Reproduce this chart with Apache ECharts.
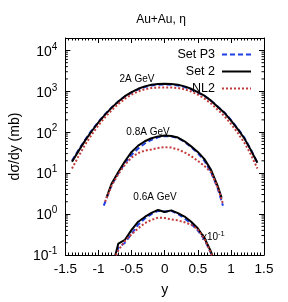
<!DOCTYPE html>
<html><head><meta charset="utf-8">
<script src="https://cdn.jsdelivr.net/npm/echarts@6.0.0/dist/echarts.min.js"></script>
<style>html,body{margin:0;padding:0;background:#fff}#c{width:288px;height:302px}</style>
</head><body><div id="c"></div>
<script>
// ---- data ----
const legendNames = ['Set P3', 'Set 2', 'NL2'];
const xTicks = [-1.5, -1, -0.5, 0, 0.5, 1, 1.5];

// 2A GeV
const x2A = [-1.4,-1.3,-1.2,-1.1,-1.0,-0.9,-0.8,-0.7,-0.6,-0.5,-0.4,-0.3,-0.2,-0.1,0,0.1,0.2,0.3,0.4,0.5,0.6,0.7,0.8,0.9,1.0,1.1,1.2,1.3,1.4];
const set2_2A = [19,35,63,107,174,269,398,562,759,955,1148,1318,1445,1510,1520,1510,1445,1318,1148,955,780,590,420,300,195,120,72,37,18];
const p3_2A   = [20,37,66,112,180,276,405,565,750,930,1110,1270,1390,1450,1460,1450,1390,1270,1110,930,770,590,425,305,200,125,75,38,18];
const nl2_2A  = [13,26,50,88,148,232,345,490,660,830,990,1120,1200,1235,1240,1235,1200,1120,990,830,665,500,355,250,160,98,56,29,13];

// 0.8A GeV
const x08_set2 = [-0.88,-0.8,-0.7,-0.6,-0.5,-0.4,-0.3,-0.2,-0.1,0,0.1,0.2,0.3,0.4,0.5,0.6,0.7,0.8,0.86];
const set2_08 = [2.5,5.6,10.7,19.5,33,47,60,71,79,83,81,74,60,45,33,22,12,4.9,2.5];
const x08_p3 = [-0.92,-0.8,-0.7,-0.6,-0.5,-0.4,-0.3,-0.2,-0.1,0,0.1,0.2,0.3,0.4,0.5,0.6,0.7,0.8,0.88];
const p3_08 = [1.6,5.2,10,17.5,28,40,53,65,75,80,79,72,58,43,31,20,10.5,4.3,1.6];
const x08_nl2 = [-0.9,-0.8,-0.7,-0.6,-0.5,-0.4,-0.3,-0.2,-0.1,0,0.1,0.2,0.3,0.4,0.5,0.6,0.7,0.8,0.88];
const nl2_08 = [2.0,5.0,9.5,16,24,31,35.5,38,41,43,42,38,32,26,20,15,10.5,4.5,1.8];

// 0.6A GeV (x10^-1)
const x06 = [-0.76,-0.7,-0.6,-0.5,-0.4,-0.3,-0.2,-0.1,0,0.1,0.2,0.3,0.4,0.5,0.6,0.7,0.75];
const set2_06 = [0.08,0.19,0.235,0.41,0.65,0.85,1.07,1.26,1.12,1.23,1.05,0.87,0.65,0.45,0.26,0.12,0.07];
const p3_06   = [0.08,0.15,0.2,0.33,0.55,0.78,1.0,1.2,1.15,1.2,1.0,0.78,0.58,0.4,0.24,0.11,0.07];
const nl2_06  = [0.08,0.13,0.22,0.32,0.45,0.6,0.72,0.82,0.8,0.74,0.70,0.63,0.55,0.42,0.25,0.11,0.07];

// ---- chart ----
const FONT = 'Liberation Sans, Arial, Helvetica, sans-serif';
const zip = (xs, ys) => xs.map((x, i) => [x, ys[i]]);
const styles = {
  'Set P3': {color: '#1f3fe6', type: [5, 3], width: 2},
  'Set 2': {color: '#000000', type: 'solid', width: 2},
  'NL2':   {color: '#c23a3a', type: [2, 2], width: 2}
};
function mk(name, xs, ys) {
  const s = styles[name];
  return {
    type: 'line', name: name, data: zip(xs, ys), symbol: 'none', showSymbol: false,
    lineStyle: {color: s.color, type: s.type, width: s.width}, itemStyle: {color: s.color},
    clip: true, silent: true, animation: false, xAxisIndex: 0, yAxisIndex: 0
  };
}
const minorVals = [];
for (let e = -1; e <= 4; e++) for (let m = 2; m <= 9; m++) { const v = m * Math.pow(10, e); if (v < 20000) minorVals.push([v]); }

const supFmt = v => {
  const l = Math.log10(v), e = Math.round(l);
  if (Math.abs(l - e) > 1e-6) return '';
  return '{b|10}{s|' + e + '}';
};
const axisCommon = {
  axisLine: {show: true, onZero: false, lineStyle: {color: '#000', width: 1}},
  splitLine: {show: false}
};
const chart = echarts.init(document.getElementById('c'), null, {renderer: 'canvas'});
chart.setOption({
  animation: false,
  textStyle: {fontFamily: FONT},
  grid: {left: 58, right: 24, top: 38, bottom: 43, containLabel: false},
  legend: {
    data: legendNames, orient: 'vertical', right: 36, top: 48, align: 'right',
    padding: 0, itemWidth: 29, itemHeight: 14, itemGap: 4,
    itemStyle: {opacity: 0},
    textStyle: {fontSize: 12.5, color: '#000', fontFamily: FONT, padding: [0, 2, 0, 0]}
  },
  xAxis: [
    Object.assign({}, axisCommon, {
      type: 'value', position: 'bottom', min: -1.5, max: 1.5, interval: 0.5,
      axisTick: {inside: true, length: 5, lineStyle: {color: '#000'}},
      minorTick: {show: true, splitNumber: 10, length: 2.5, lineStyle: {color: '#000'}},
      axisLabel: {color: '#000', fontSize: 13.5, margin: 7, fontFamily: FONT},
      name: 'y', nameLocation: 'middle', nameGap: 28,
      nameTextStyle: {fontSize: 14, color: '#000', fontFamily: FONT}
    }),
    Object.assign({}, axisCommon, {
      type: 'value', position: 'top', min: -1.5, max: 1.5, interval: 0.5,
      axisTick: {inside: true, length: 5, lineStyle: {color: '#000'}},
      minorTick: {show: true, splitNumber: 10, length: 2.5, lineStyle: {color: '#000'}},
      axisLabel: {show: false}
    })
  ],
  yAxis: [
    Object.assign({}, axisCommon, {
      type: 'log', logBase: 10, position: 'left', min: 0.1, max: 20000,
      axisTick: {inside: true, length: 5, lineStyle: {color: '#000'}},
      axisLabel: {
        color: '#000', margin: 8, formatter: supFmt,
        rich: {
          b: {fontSize: 14, color: '#000', fontFamily: FONT, verticalAlign: 'bottom'},
          s: {fontSize: 10, color: '#000', fontFamily: FONT, verticalAlign: 'bottom', padding: [0, 0, 7, 0]}
        }
      },
      name: 'dσ/dy (mb)', nameLocation: 'middle', nameGap: 40, nameRotate: 90,
      nameTextStyle: {fontSize: 14, color: '#000', fontFamily: FONT}
    }),
    Object.assign({}, axisCommon, {
      type: 'log', logBase: 10, position: 'right', min: 0.1, max: 20000,
      axisTick: {inside: true, length: 5, lineStyle: {color: '#000'}},
      axisLabel: {show: false}
    })
  ],
  series: [
    {
      type: 'custom', name: 'minor', silent: true, xAxisIndex: 0, yAxisIndex: 0,
      data: minorVals, clip: false,
      renderItem: function (params, api) {
        const v = api.value(0);
        const pl = api.coord([-1.5, v]);
        const pr = api.coord([1.5, v]);
        return {type: 'group', children: [
          {type: 'line', shape: {x1: pl[0], y1: pl[1], x2: pl[0] + 2.5, y2: pl[1]}, style: {stroke: '#000', lineWidth: 1}},
          {type: 'line', shape: {x1: pr[0], y1: pr[1], x2: pr[0] - 2.5, y2: pr[1]}, style: {stroke: '#000', lineWidth: 1}}
        ]};
      },
      encode: {y: 0}
    },
    mk('Set P3', x2A, p3_2A), mk('Set 2', x2A, set2_2A), mk('NL2', x2A, nl2_2A),
    mk('Set P3', x08_p3, p3_08), mk('Set 2', x08_set2, set2_08), mk('NL2', x08_nl2, nl2_08),
    mk('Set P3', x06, p3_06), mk('Set 2', x06, set2_06), mk('NL2', x06, nl2_06)
  ],
  graphic: [
    {type: 'text', x: 161, y: 20, style: {text: 'Au+Au, η', fill: '#000', font: '12px ' + FONT, textAlign: 'center', textVerticalAlign: 'middle'}},
    {type: 'text', x: 137, y: 79, style: {text: '2A GeV', fill: '#000', font: '10px ' + FONT, textAlign: 'center', textVerticalAlign: 'middle'}},
    {type: 'text', x: 148, y: 132, style: {text: '0.8A GeV', fill: '#000', font: '10px ' + FONT, textAlign: 'center', textVerticalAlign: 'middle'}},
    {type: 'text', x: 155, y: 197, style: {text: '0.6A GeV', fill: '#000', font: '10px ' + FONT, textAlign: 'center', textVerticalAlign: 'middle'}},
    {type: 'text', x: 202, y: 236, style: {
      text: '{b|x10}{s|-1}', textVerticalAlign: 'middle',
      rich: {
        b: {fontSize: 10, fill: '#000', fontFamily: FONT, verticalAlign: 'bottom'},
        s: {fontSize: 7.5, fill: '#000', fontFamily: FONT, verticalAlign: 'bottom', padding: [0, 0, 5, 0]}
      }
    }}
  ]
});
</script></body></html>
